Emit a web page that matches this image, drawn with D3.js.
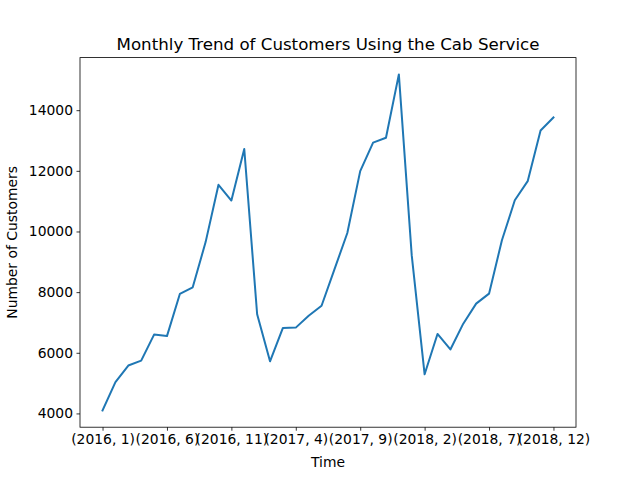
<!DOCTYPE html>
<html>
<head>
<meta charset="utf-8">
<script src="https://cdn.jsdelivr.net/npm/d3@7"></script>
<style>
  body { margin: 0; background: #fff; }
  text { font-family: "DejaVu Sans", sans-serif; }
</style>
</head>
<body>
<script>
// Months from (2016, 1) to (2018, 12)
const years = [2016, 2017, 2018];
const months = d3.range(1, 13);
const periods = years.flatMap(y => months.map(m => `(${y}, ${m})`));

// Customers per month
const customers = [
  4100, 5030, 5580, 5740, 6600, 6550, 7940, 8160, 9650, 11540, 11020, 12720,
  7270, 5720, 6820, 6830, 7220, 7550, 8750, 9950, 11990, 12930, 13090, 15180,
  9210, 5290, 6620, 6110, 6960, 7620, 7950, 9710, 11030, 11660, 13330, 13760
];

const tickEvery = 5;

const W = 640, H = 480;
const margin = { top: 57.6, right: 64, bottom: 52.8, left: 80 };
const width = W - margin.left - margin.right;
const height = H - margin.top - margin.bottom;

const svg = d3.select("body").append("svg")
    .attr("width", W)
    .attr("height", H);

const g = svg.append("g")
    .attr("transform", `translate(${margin.left},${margin.top})`);

// matplotlib-style 5% padding on both axes
const n = customers.length;
const xPad = (n - 1) * 0.05;
const x = d3.scaleLinear()
    .domain([-xPad, n - 1 + xPad])
    .range([0, width]);

const yMin = d3.min(customers), yMax = d3.max(customers);
const yPad = (yMax - yMin) * 0.05;
const y = d3.scaleLinear()
    .domain([yMin - yPad, yMax + yPad])
    .range([height, 0]);

// Axes
const xAxis = d3.axisBottom(x)
    .tickValues(d3.range(0, n, tickEvery))
    .tickFormat(i => periods[i])
    .tickSize(3.5)
    .tickPadding(3.5);

const yAxis = d3.axisLeft(y)
    .tickValues([4000, 6000, 8000, 10000, 12000, 14000])
    .tickFormat(d3.format("d"))
    .tickSize(3.5)
    .tickPadding(3.5);

const gx = g.append("g")
    .attr("transform", `translate(0,${height})`)
    .call(xAxis);
const gy = g.append("g").call(yAxis);

[gx, gy].forEach(a => {
    a.select(".domain").remove();
    a.selectAll("text")
        .style("font-size", "13.89px")
        .style("font-family", "'DejaVu Sans', sans-serif")
        .attr("fill", "#000");
    a.selectAll("line").attr("stroke", "#000").attr("stroke-width", 0.8);
});

// Frame
g.append("rect")
    .attr("width", width)
    .attr("height", height)
    .attr("fill", "none")
    .attr("stroke", "#000")
    .attr("stroke-width", 0.8);

// Line
const line = d3.line()
    .x((d, i) => x(i))
    .y(d => y(d));

g.append("path")
    .datum(customers)
    .attr("fill", "none")
    .attr("stroke", "#1f77b4")
    .attr("stroke-width", 2)
    .attr("stroke-linejoin", "round")
    .attr("stroke-linecap", "square")
    .attr("d", line);

// Title and axis labels
svg.append("text")
    .attr("x", margin.left + width / 2)
    .attr("y", margin.top - 8)
    .attr("text-anchor", "middle")
    .style("font-size", "16.67px")
    .text("Monthly Trend of Customers Using the Cab Service");

svg.append("text")
    .attr("x", margin.left + width / 2)
    .attr("y", H - 13)
    .attr("text-anchor", "middle")
    .style("font-size", "13.89px")
    .text("Time");

svg.append("text")
    .attr("transform", `translate(17,${margin.top + height / 2}) rotate(-90)`)
    .attr("text-anchor", "middle")
    .style("font-size", "13.89px")
    .text("Number of Customers");
</script>
</body>
</html>
